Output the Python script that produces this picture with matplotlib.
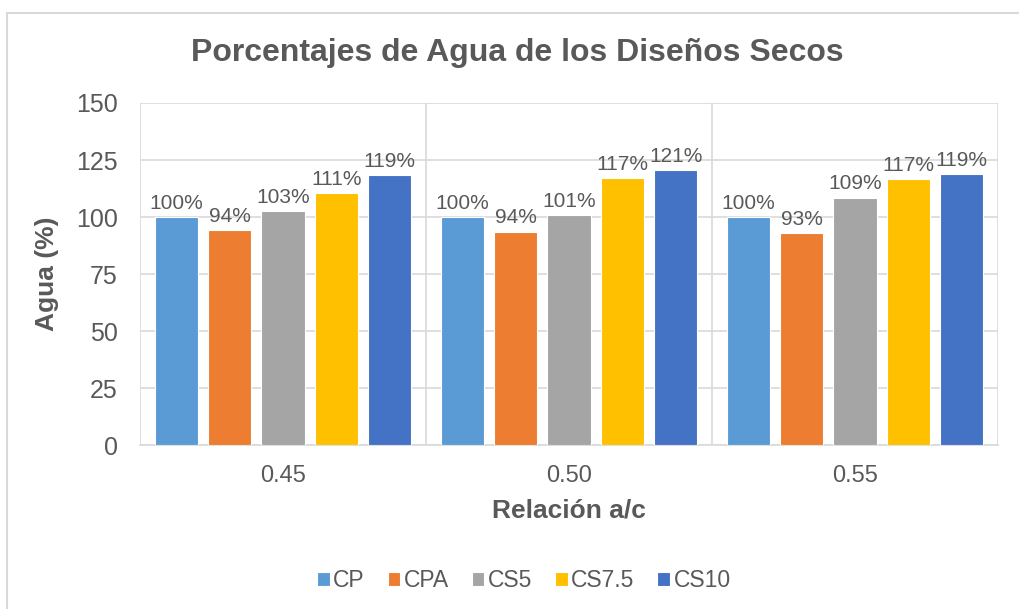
import matplotlib
matplotlib.use("Agg")
import matplotlib.pyplot as plt
import numpy as np
from matplotlib.patches import Rectangle

# data
categories = ["0.45", "0.50", "0.55"]
series = ["CP", "CPA", "CS5", "CS7.5", "CS10"]
cp = [100, 100, 100]
cpa = [94.2, 93.7, 93.2]
cs5 = [102.6, 101.0, 108.6]
cs75 = [110.6, 117.0, 116.6]
cs10 = [118.6, 120.6, 118.7]
colors = ["#5B9BD5", "#ED7D31", "#A5A5A5", "#FFC000", "#4472C4"]

plt.rcParams['font.family'] = ['Liberation Sans', 'DejaVu Sans']
txt = "#595959"
grid = "#D9D9D9"

fig = plt.figure(figsize=(10.19, 6.09), dpi=100)
ax = fig.add_axes([0.1374, 0.2685, 0.842, 0.5624])

x = np.arange(len(categories))
slot = 0.1865
bw = 0.152
for i, vals in enumerate([cp, cpa, cs5, cs75, cs10]):
    pos = x + (i - 2) * slot
    ax.bar(pos, vals, width=bw, color=colors[i], edgecolor="white",
           linewidth=0.8, label=series[i], zorder=3)
    for p, v in zip(pos, vals):
        ax.text(p, v + 1.8, f"{v:.0f}%", ha="center", va="bottom",
                fontsize=15, color=txt, zorder=4)

ax.set_xlim(-0.5, 2.5)
ax.set_ylim(0, 150)
ax.set_yticks(np.arange(0, 151, 25))
ax.set_xticks(x)
ax.set_xticklabels(categories)
ax.set_xticks([-0.5, 0.5, 1.5, 2.5], minor=True)
ax.tick_params(axis="both", which="both", length=0, labelcolor=txt)
ax.tick_params(axis="y", labelsize=18, pad=16)
ax.tick_params(axis="x", labelsize=17, pad=14)
ax.grid(axis="y", which="major", color=grid, linewidth=1.2, zorder=0)
ax.grid(axis="x", which="minor", color=grid, linewidth=1.2, zorder=0)
for s in ["top", "right", "left"]:
    ax.spines[s].set_visible(False)
ax.spines["bottom"].set_color(grid)
ax.spines["bottom"].set_linewidth(1.2)

ax.set_xlabel("Relación a/c", fontsize=19, fontweight="bold", color=txt, labelpad=8)
ax.set_ylabel("Agua (%)", fontsize=19, fontweight="bold", color=txt, labelpad=12)
fig.text(0.508, 0.913, "Porcentajes de Agua de los Diseños Secos", ha="center",
         va="center", fontsize=23, fontweight="bold", color=txt)

fig.legend(loc="center", bbox_to_anchor=(0.514, 0.046), ncol=5, frameon=False,
           fontsize=16.5, handlelength=0.55, handleheight=0.55, handletextpad=0.15,
           columnspacing=1.0, labelcolor=txt)

fig.patches.append(Rectangle((7 / 1019, -0.05), 1.1, 1.05 - 13 / 609, transform=fig.transFigure,
                             fill=False, edgecolor=grid, linewidth=1.5))

fig.savefig("out.png", dpi=100)
